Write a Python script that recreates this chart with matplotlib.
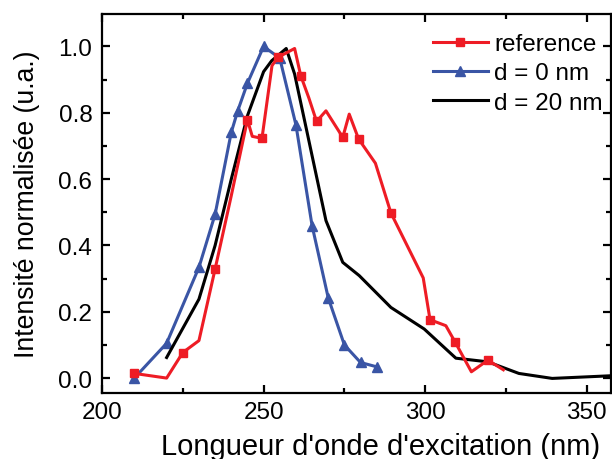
import matplotlib
matplotlib.use("Agg")
import matplotlib.pyplot as plt
from matplotlib.ticker import MultipleLocator, FormatStrFormatter

plt.rcParams['font.family'] = ['Liberation Sans', 'DejaVu Sans']

# reference (red squares, marker on every other point)
ref_x = [210, 220, 225, 230, 235, 240, 245, 246.5, 249.5, 252.6, 254.4, 259.6, 261.5, 264,
         266.4, 269.3, 274.5, 276.5, 279.4, 284.6, 289.4, 299.4, 301.5, 306.4, 309.3, 314.3,
         319.4, 324.2]
ref_y = [0.014, 0.0, 0.077, 0.113, 0.329, 0.55, 0.779, 0.729, 0.723, 0.942, 0.967, 0.994, 0.912, 0.845,
         0.774, 0.806, 0.726, 0.796, 0.721, 0.648, 0.498, 0.302, 0.176, 0.158, 0.108, 0.019,
         0.054, 0.025]

# d = 0 nm (blue triangles)
d0_x = [210, 220, 230, 235, 240, 242, 245, 250, 255, 260, 265, 270, 275, 280, 285]
d0_y = [0.0, 0.105, 0.334, 0.494, 0.741, 0.806, 0.889, 1.0, 0.965, 0.764, 0.46, 0.242, 0.10, 0.047, 0.034]

# d = 20 nm (black line)
d20_x = [220, 230, 235, 240, 245, 250, 252.5, 257, 259.6, 269.3, 274.5, 279.6, 289.4, 299.7,
         309.5, 319.4, 329, 339.3, 357.5]
d20_y = [0.062, 0.238, 0.40, 0.60, 0.791, 0.924, 0.957, 0.994, 0.917, 0.475, 0.349, 0.309, 0.213,
         0.148, 0.06, 0.049, 0.014, -0.001, 0.007]

fig = plt.figure(figsize=(6.12, 4.6), dpi=100)
ax = fig.add_axes([102/612, 66/460, 509/612, 379/460])

red = '#ee1c25'
blue = '#3a55a5'

ax.plot(ref_x, ref_y, color=red, lw=2.2, marker='s', ms=5.8, markevery=2, label='reference', zorder=3)
ax.plot(d0_x, d0_y, color=blue, lw=2.2, marker='^', ms=7.5, label='d = 0 nm', zorder=2)
ax.plot(d20_x, d20_y, color='black', lw=2.2, label='d = 20 nm', zorder=2)

ax.set_xlim(200, 357.5)
ax.set_ylim(-0.045, 1.098)
ax.xaxis.set_major_locator(MultipleLocator(50))
ax.xaxis.set_minor_locator(MultipleLocator(25))
ax.yaxis.set_major_locator(MultipleLocator(0.2))
ax.yaxis.set_minor_locator(MultipleLocator(0.1))
ax.yaxis.set_major_formatter(FormatStrFormatter('%.1f'))

for s in ax.spines.values():
    s.set_linewidth(1.6)
ax.tick_params(which='both', direction='in', top=True, right=True, labelsize=17.5, width=1.6)
ax.tick_params(which='major', length=6)
ax.tick_params(which='minor', length=3.5)
ax.tick_params(axis='x', which='major', pad=5.5)
ax.tick_params(axis='y', which='major', pad=7)

ax.set_xlabel("Longueur d'onde d'excitation (nm)", fontsize=21)
ax.set_ylabel("Intensité normalisée (u.a.)", fontsize=19.2)
ax.xaxis.set_label_coords((381 - 102) / 509, (394 - 433) / 379)
ax.yaxis.set_label_coords((40 - 102) / 509, 0.5)

ax.legend(loc='upper right', bbox_to_anchor=((603 - 102) / 509, (394 - 34) / 379), frameon=False,
          fontsize=17.5, handlelength=2.27, handletextpad=0.27, labelspacing=0.3,
          borderaxespad=0.0, borderpad=0.0)

fig.savefig('out.png', dpi=100)
